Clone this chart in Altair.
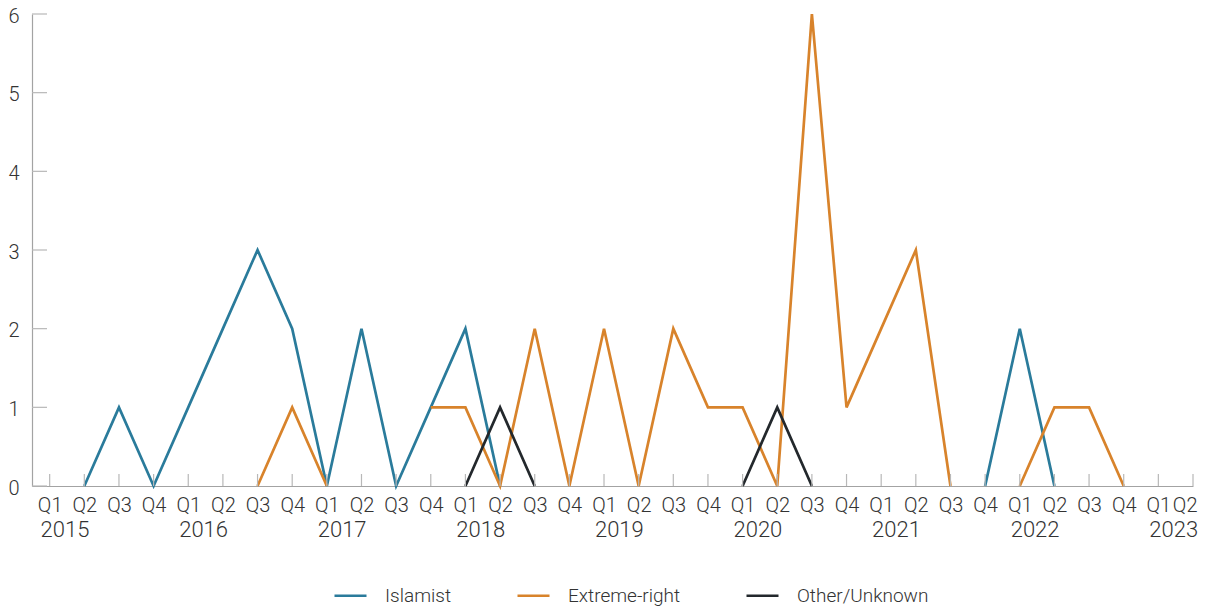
import altair as alt
import pandas as pd

years = ["2015", "2016", "2017", "2018", "2019", "2020", "2021", "2022", "2023"]
quarter_count = 34  # 2015 Q1 .. 2023 Q2
series = ["Islamist", "Extreme-right", "Other/Unknown"]
colors = ["#2a7b9b", "#d8832b", "#23282c"]
y_ticks = [0, 1, 2, 3, 4, 5, 6]

N = None
islamist = [N, 0, 1, 0,  1, 2, 3, 2,  0, 2, 0, 1,  2, 0, N, N,  N, N, N, N,
            N, N, N, N,  N, N, N, 0,  2, 0, N, N,  N, N]
extreme_right = [N, N, N, N,  N, N, 0, 1,  0, N, N, 1,  1, 0, 2, 0,  2, 0, 2, 1,
                 1, 0, 6, 1,  2, 3, 0, N,  0, 1, 1, 0,  N, N]
other_unknown = [N, N, N, N,  N, N, N, N,  N, N, N, N,  0, 1, 0, N,  N, N, N, N,
                 0, 1, 0, N,  N, N, N, N,  N, N, N, N,  N, N]

rows = []
for name, vals in zip(series, [islamist, extreme_right, other_unknown]):
    for i, v in enumerate(vals):
        rows.append({"q": i, "series": name, "value": v})
df = pd.DataFrame(rows)
df["value"] = df["value"].astype(float)

W, H = 1161, 472
FONT = "Roboto"
TXT = "#333333"
AXIS_C = "#a3a3a3"
TICK_C = "#b8b8b8"

xscale = alt.Scale(domain=[-0.51, quarter_count - 1], nice=False, zero=False)
yscale = alt.Scale(domain=[0, 6], nice=False)

x_axis = alt.Axis(values=list(range(quarter_count)),
                  labelExpr="'Q' + (datum.value % 4 + 1)",
                  ticks=False, grid=False, title=None,
                  domainColor=AXIS_C, domainWidth=1.2,
                  labelFontSize=20, labelColor=TXT, labelFont=FONT,
                  labelFontWeight=300,
                  labelPadding=9, labelOverlap=False,
                  labelFlush=True, labelFlushOffset=4)
y_axis = alt.Axis(values=y_ticks, format="d", ticks=False, grid=False, title=None,
                  domainColor=AXIS_C, domainWidth=1.2,
                  labelFontSize=20, labelColor=TXT, labelFont=FONT,
                  labelFontWeight=300, labelOffset=2,
                  labelPadding=13, labelFlush=False, labelOverlap=False)

lines = alt.Chart(df).mark_line(strokeWidth=2.7, invalid="break-paths-show-domains").encode(
    x=alt.X("q:Q", scale=xscale, axis=x_axis, title=None),
    y=alt.Y("value:Q", scale=yscale, axis=y_axis, title=None),
    color=alt.Color("series:N", scale=alt.Scale(domain=series, range=colors),
                    legend=alt.Legend(title=None, orient="none", direction="horizontal",
                                      legendX=301, legendY=564,
                                      symbolType="stroke", symbolSize=1024,
                                      symbolStrokeWidth=2.7,
                                      labelFontSize=19, labelFont=FONT, labelColor=TXT,
                                      labelFontWeight=300,
                                      labelOffset=17, columnPadding=60)),
)

xt = pd.DataFrame({"q": list(range(quarter_count))})
xticks = alt.Chart(xt).mark_rule(color=TICK_C, strokeWidth=1.2).encode(
    x=alt.X("q:Q", scale=xscale, axis=x_axis, title=None),
    y=alt.value(H), y2=alt.value(H - 12))

yt = pd.DataFrame({"value": y_ticks})
yticks = alt.Chart(yt).mark_rule(color=TICK_C, strokeWidth=1.2).encode(
    y=alt.Y("value:Q", scale=yscale, axis=y_axis, title=None),
    x=alt.value(0), x2=alt.value(15))

yl = pd.DataFrame({"year": years, "q": [i * 4 + 0.5 for i in range(len(years))]})
year_labels = alt.Chart(yl).mark_text(fontSize=22, font=FONT, fontWeight=300,
                                      color=TXT, baseline="top", dx=-2).encode(
    x=alt.X("q:Q", scale=xscale, axis=x_axis, title=None),
    y=alt.value(H + 34), text="year:N")

chart = alt.layer(lines, xticks, yticks, year_labels).properties(
    width=W, height=H,
    autosize=alt.AutoSizeParams(type="none"),
    padding={"left": 24, "top": 6, "right": 6, "bottom": 124},
).configure(font=FONT).configure_view(stroke=None)

chart.save("out.html", embed_options={"renderer": "svg", "actions": False})
